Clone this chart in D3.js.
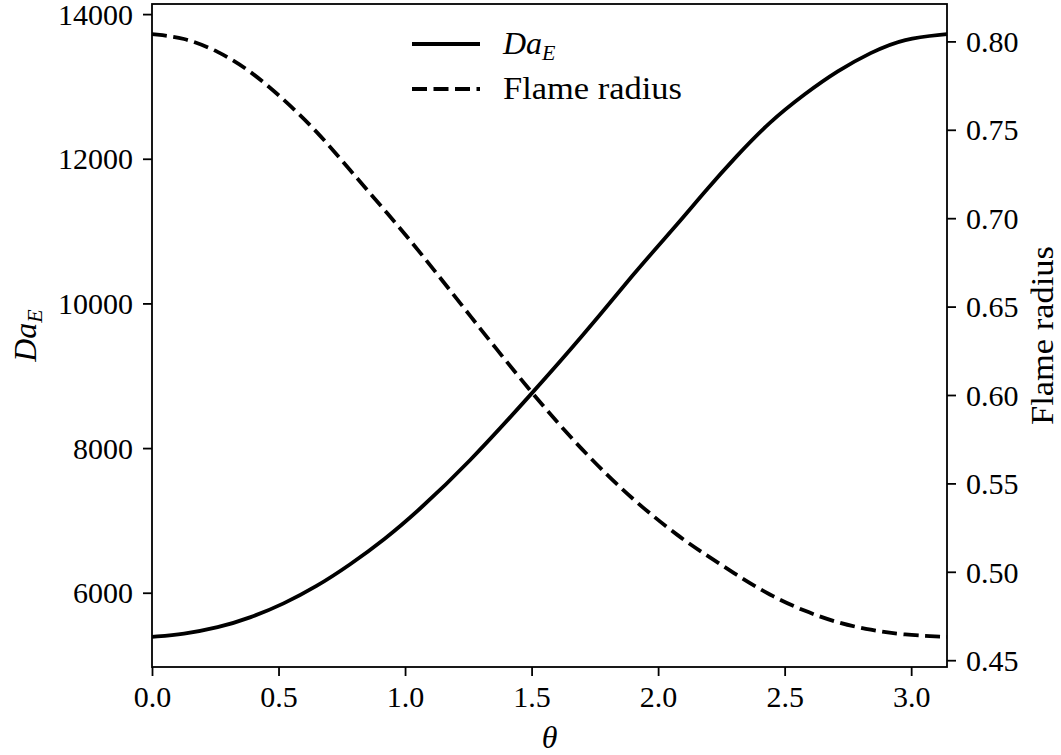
<!DOCTYPE html>
<html>
<head>
<meta charset="utf-8">
<script src="https://cdn.jsdelivr.net/npm/d3@7"></script>
<style>
  body { margin: 0; background: #fff; }
  svg { display: block; }
  text { font-family: "Liberation Serif", "Times New Roman", serif; fill: #000; }
  .domain { display: none; }
</style>
</head>
<body>
<div id="chart"></div>
<script>
// values
const theta = [0, 0.125, 0.26, 0.39, 0.52, 0.65, 0.78, 0.92, 1.05, 1.25, 1.5, 1.7, 1.9, 2.09, 2.18, 2.31, 2.44, 2.58, 2.71, 2.84, 2.97, 3.1416];
const daE = [5390, 5428, 5515, 5655, 5845, 6085, 6380, 6740, 7125, 7790, 8750, 9540, 10400, 11150, 11530, 12040, 12510, 12900, 13220, 13470, 13664, 13723];
const flameRadius = [0.8041, 0.8023, 0.7947, 0.7833, 0.7673, 0.7495, 0.7276, 0.7045, 0.6825, 0.646, 0.601, 0.5685, 0.5405, 0.519, 0.5105, 0.4982, 0.4868, 0.4776, 0.4711, 0.467, 0.4643, 0.4632];

const xTicks = [0, 0.5, 1.0, 1.5, 2.0, 2.5, 3.0];
const leftTicks = [6000, 8000, 10000, 12000, 14000];
const rightTicks = [0.45, 0.50, 0.55, 0.60, 0.65, 0.70, 0.75, 0.80];

const width = 1061, height = 755;
const margin = {top: 4, right: 114, bottom: 88, left: 152};
const fs = 30;

// matplotlib style 5% padding
const pad = ext => { const d = (ext[1] - ext[0]) * 0.05; return [ext[0] - d, ext[1] + d]; };

const x = d3.scaleLinear().domain(d3.extent(theta)).range([margin.left, width - margin.right]);
const yL = d3.scaleLinear().domain(pad(d3.extent(daE))).range([height - margin.bottom, margin.top]);
const yR = d3.scaleLinear().domain(pad(d3.extent(flameRadius))).range([height - margin.bottom, margin.top]);

const svg = d3.select("#chart").append("svg")
    .attr("width", width)
    .attr("height", height);

const pts = theta.map((t, i) => ({t, a: daE[i], r: flameRadius[i]}));

const lineA = d3.line().x(d => x(d.t)).y(d => yL(d.a)).curve(d3.curveBasis);
const lineR = d3.line().x(d => x(d.t)).y(d => yR(d.r)).curve(d3.curveBasis);

svg.append("path")
    .datum(pts)
    .attr("d", lineA)
    .attr("fill", "none")
    .attr("stroke", "#000")
    .attr("stroke-width", 3.8);

svg.append("path")
    .datum(pts)
    .attr("d", lineR)
    .attr("fill", "none")
    .attr("stroke", "#000")
    .attr("stroke-width", 3.8)
    .attr("stroke-dasharray", "15,6.5");

// axes
const styleAxis = g => {
    g.selectAll(".tick line").attr("stroke", "#000").attr("stroke-width", 1.8);
    g.selectAll(".tick text").style("font-size", fs + "px");
};

svg.append("g")
    .attr("transform", `translate(0,${height - margin.bottom})`)
    .call(d3.axisBottom(x).tickValues(xTicks).tickFormat(d3.format(".1f")).tickSize(9).tickPadding(10))
    .call(styleAxis);

svg.append("g")
    .attr("transform", `translate(${margin.left},0)`)
    .call(d3.axisLeft(yL).tickValues(leftTicks).tickFormat(d3.format("d")).tickSize(9).tickPadding(10))
    .call(styleAxis)
    .selectAll(".tick text").attr("dy", "0.34em");

svg.append("g")
    .attr("transform", `translate(${width - margin.right},0)`)
    .call(d3.axisRight(yR).tickValues(rightTicks).tickFormat(d3.format(".2f")).tickSize(9).tickPadding(10))
    .call(styleAxis)
    .selectAll(".tick text").attr("dy", "0.34em");

// frame
svg.append("rect")
    .attr("x", margin.left)
    .attr("y", margin.top)
    .attr("width", width - margin.left - margin.right)
    .attr("height", height - margin.top - margin.bottom)
    .attr("fill", "none")
    .attr("stroke", "#000")
    .attr("stroke-width", 1.8);

// axis labels
const midY = (margin.top + height - margin.bottom) / 2;

svg.append("text")
    .attr("x", (margin.left + width - margin.right) / 2)
    .attr("y", 748)
    .attr("text-anchor", "middle")
    .style("font-size", "32px")
    .style("font-style", "italic")
    .text("θ");

const yl = svg.append("text")
    .attr("transform", `translate(36,${midY}) rotate(-90)`)
    .attr("text-anchor", "middle")
    .style("font-size", "32px");
yl.append("tspan").style("font-style", "italic").text("Da");
yl.append("tspan").style("font-style", "italic").style("font-size", "22px").attr("dy", 6).text("E");

svg.append("text")
    .attr("transform", `translate(1031,${midY}) rotate(-90)`)
    .attr("text-anchor", "middle")
    .attr("dy", "0.7em")
    .attr("textLength", 179)
    .attr("lengthAdjust", "spacingAndGlyphs")
    .style("font-size", "32px")
    .text("Flame radius");

// legend
const legend = svg.append("g");
const items = [
    {label: "Da", sub: "E", dash: null, y: 44},
    {label: "Flame radius", sub: null, dash: "15,6.5", y: 89}
];
items.forEach(it => {
    legend.append("line")
        .attr("x1", 412).attr("x2", 480)
        .attr("y1", it.y).attr("y2", it.y)
        .attr("stroke", "#000")
        .attr("stroke-width", 3.8)
        .attr("stroke-dasharray", it.dash);
    const t = legend.append("text")
        .attr("x", 503)
        .attr("y", it.y + 10)
        .style("font-size", "32px");
    if (it.sub) {
        t.append("tspan").style("font-style", "italic").text(it.label);
        t.append("tspan").style("font-style", "italic").style("font-size", "22px").attr("dy", 6).text(it.sub);
    } else {
        t.attr("textLength", 179).attr("lengthAdjust", "spacingAndGlyphs").text(it.label);
    }
});
</script>
</body>
</html>
